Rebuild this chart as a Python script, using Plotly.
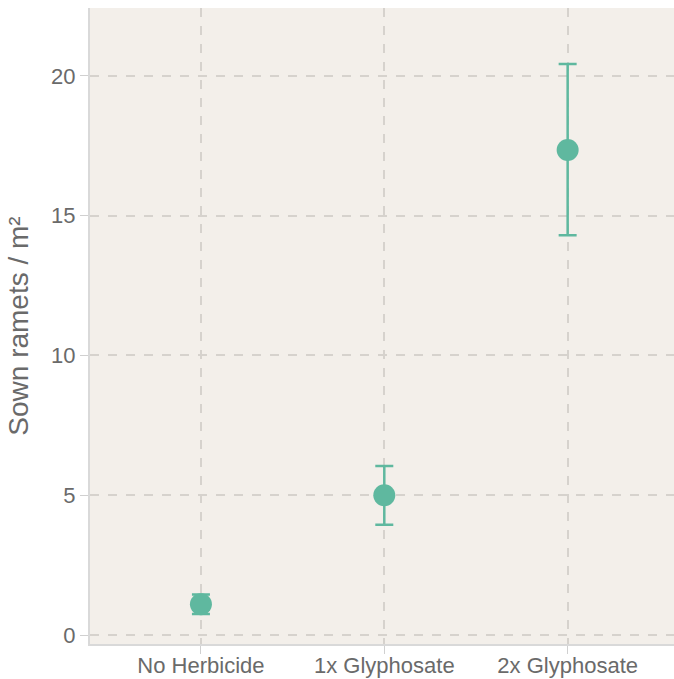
import plotly.graph_objects as go

categories = ["No Herbicide", "1x Glyphosate", "2x Glyphosate"]
means = [1.1, 5.0, 17.35]
err_plus = [0.35, 1.05, 3.08]
err_minus = [0.35, 1.05, 3.05]
y_ticks = [0, 5, 10, 15, 20]

teal = "#5fb89f"

fig = go.Figure()
fig.add_trace(go.Scatter(
    x=[0, 1, 2], y=means, mode="markers",
    marker=dict(size=22, color=teal),
    error_y=dict(type="data", symmetric=False, array=err_plus, arrayminus=err_minus,
                 color=teal, thickness=2.5, width=9),
    showlegend=False,
))

fig.update_layout(
    width=674, height=679,
    margin=dict(l=90, r=0, t=8, b=35),
    paper_bgcolor="white",
    plot_bgcolor="#f3efea",
    font=dict(family="Liberation Sans, Arial, sans-serif", color="#666666"),
    xaxis=dict(
        tickmode="array", tickvals=[0, 1, 2], ticktext=categories,
        range=[-0.605, 2.58], automargin=False,
        showgrid=True, gridcolor="#d6d2cd", griddash="dash", gridwidth=1.5,
        zeroline=False,
        showline=True, linecolor="#d9d9d9", linewidth=2,
        ticks="outside", ticklen=1, tickcolor="#d0d0d0",
        minor=dict(tickmode="array", tickvals=[0, 1, 2], ticks="outside",
                   ticklen=8, tickcolor="#d0d0d0", showgrid=False),
        tickfont=dict(size=22, color="#6a6a6a"),
    ),
    yaxis=dict(
        tickmode="array", tickvals=y_ticks,
        range=[-0.32, 22.43], automargin=False,
        showgrid=True, gridcolor="#d6d2cd", griddash="dash", gridwidth=1.5,
        zeroline=False,
        showline=True, linecolor="#d9d9d9", linewidth=2,
        ticks="outside", ticklen=8, tickcolor="#d0d0d0",
        tickfont=dict(size=22, color="#6a6a6a"),
        title=dict(text="Sown ramets / m²", font=dict(size=28, color="#6a6a6a"), standoff=14),
    ),
)

fig.write_html("out.html")
